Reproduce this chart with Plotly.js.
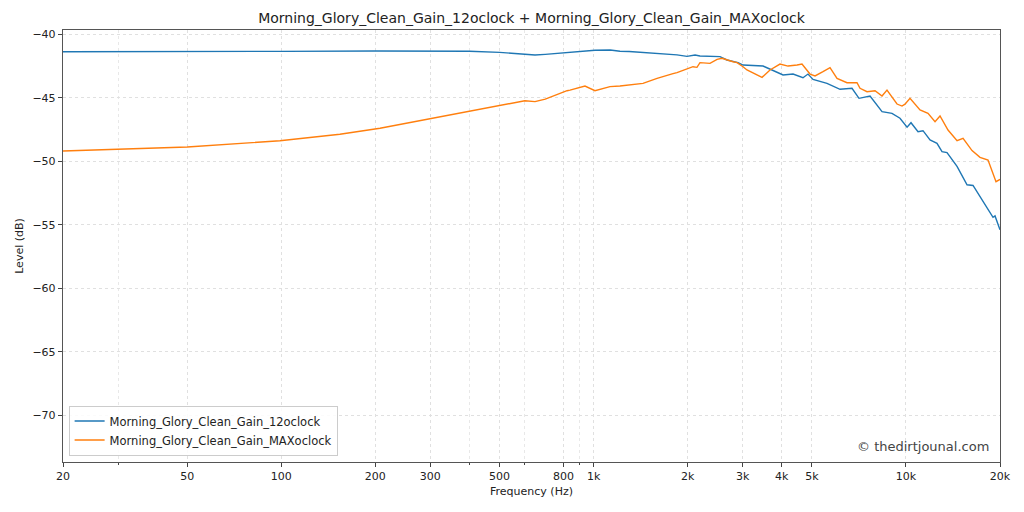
<!DOCTYPE html>
<html>
<head>
<meta charset="utf-8">
<script src="https://cdn.plot.ly/plotly-3.0.1.min.js"></script>
<style>html,body{margin:0;padding:0;background:#fff;}#chart{width:1024px;height:512px;}</style>
</head>
<body>
<div id="chart"></div>
<script>
const chartTitle = "Morning_Glory_Clean_Gain_12oclock + Morning_Glory_Clean_Gain_MAXoclock";
const seriesNames = ["Morning_Glory_Clean_Gain_12oclock", "Morning_Glory_Clean_Gain_MAXoclock"];

const freq12 = [20,30,50,100,200,300,400,500,560,602,649,700,760,822,880,938,972,1010,1130,1214,1300,1482,1549,1700,1849,1990,2112,2190,2400,2538,2672,2900,3008,3300,3486,3724,4040,4349,4680,4856,5040,5586,6150,6716,7074,7672,8382,9020,9568,10080,10378,10928,11338,11940,12570,13044,13532,14571,15686,16394,17908,18996,19279,20000];
const level12 = [-41.37,-41.37,-41.36,-41.34,-41.31,-41.31,-41.33,-41.42,-41.52,-41.58,-41.63,-41.58,-41.50,-41.42,-41.38,-41.32,-41.28,-41.26,-41.24,-41.33,-41.35,-41.45,-41.52,-41.58,-41.62,-41.74,-41.63,-41.71,-41.72,-41.76,-42.02,-42.23,-42.42,-42.45,-42.5,-42.81,-43.2,-43.13,-43.42,-43.13,-43.55,-43.86,-44.33,-44.25,-45.04,-44.86,-46.09,-46.22,-46.61,-47.32,-46.96,-47.67,-47.59,-48.32,-48.58,-49.24,-49.32,-50.4,-51.85,-51.9,-53.44,-54.41,-54.3,-55.4];

const freqMax = [20,28,50,99,154,207,300,400,501,602,649,700,822,840,938,994,1010,1128,1214,1439,1549,1596,1795,1849,2080,2142,2190,2358,2484,2576,2794,2878,3008,3097,3460,3670,3950,4192,4480,4646,4929,5115,5424,5712,6015,6474,6970,7126,7504,7960,8382,8694,9361,9712,9928,10301,11090,11764,12388,12853,13632,14571,15231,16274,17260,18309,19420,20000];
const levelMax = [-49.19,-49.09,-48.87,-48.38,-47.87,-47.4,-46.65,-46.05,-45.65,-45.23,-45.3,-45.1,-44.44,-44.39,-44.07,-44.39,-44.44,-44.12,-44.07,-43.86,-43.55,-43.47,-43.1,-43.02,-42.55,-42.6,-42.23,-42.29,-41.97,-41.89,-42.16,-42.23,-42.55,-42.81,-43.39,-42.81,-42.34,-42.5,-42.42,-42.34,-43.13,-43.28,-42.94,-42.62,-43.47,-43.81,-43.81,-44.25,-44.52,-44.44,-44.86,-44.39,-45.49,-45.65,-45.5,-45.04,-45.96,-46.22,-46.88,-46.43,-47.54,-48.38,-48.19,-49.16,-49.69,-49.9,-51.6,-51.42];

const xTickVals = [20,50,100,200,300,500,800,1000,2000,3000,4000,5000,10000,20000];
const xTickText = ["20","50","100","200","300","500","800","1k","2k","3k","4k","5k","10k","20k"];
const xMinorVals = [30,400,600,900];
const yTickVals = [-70,-65,-60,-55,-50,-45,-40];
const watermark = "© thedirtjounal.com";

const font = "DejaVu Sans, sans-serif";
const traces = [
  {x: freq12, y: level12, name: seriesNames[0], type: "scatter", mode: "lines",
   line: {color: "#1f77b4", width: 1.4}},
  {x: freqMax, y: levelMax, name: seriesNames[1], type: "scatter", mode: "lines",
   line: {color: "#ff7f0e", width: 1.4}}
];
const layout = {
  width: 1024, height: 512,
  margin: {l: 63, r: 24, t: 30, b: 50},
  paper_bgcolor: "#fff", plot_bgcolor: "#fff",
  font: {family: font, size: 11, color: "#222"},
  title: {text: chartTitle, x: 0.519, xanchor: "center", y: 0.965, yanchor: "middle",
          font: {family: font, size: 14, color: "#222"}},
  xaxis: {
    type: "log", range: [Math.log10(20), Math.log10(20000)],
    tickmode: "array", tickvals: xTickVals, ticktext: xTickText,
    ticks: "outside", ticklen: 4, tickcolor: "#444",
    showline: true, mirror: true, linecolor: "#555", linewidth: 1.2,
    showgrid: true, gridcolor: "#e0e0e0", griddash: "dot", gridwidth: 1,
    zeroline: false,
    minor: {tickmode: "array", tickvals: xMinorVals, ticks: "outside", ticklen: 2,
            tickcolor: "#444", showgrid: true, gridcolor: "#e8e8e8", griddash: "dot"},
    title: {text: "Frequency (Hz)", font: {family: font, size: 11, color: "#222"}, standoff: 4},
    tickfont: {family: font, size: 11, color: "#222"}
  },
  yaxis: {
    range: [-73.68, -39.66],
    tickmode: "array", tickvals: yTickVals,
    ticks: "outside", ticklen: 4, tickcolor: "#444",
    showline: true, mirror: true, linecolor: "#555", linewidth: 1.2,
    showgrid: true, gridcolor: "#e0e0e0", griddash: "dot", gridwidth: 1,
    zeroline: false,
    title: {text: "Level (dB)", font: {family: font, size: 11, color: "#222"}, standoff: 6},
    tickfont: {family: font, size: 11, color: "#222"}
  },
  showlegend: true,
  legend: {x: 0.006, y: 0.015, xanchor: "left", yanchor: "bottom",
           bgcolor: "rgba(255,255,255,0.85)", bordercolor: "#cccccc", borderwidth: 1,
           font: {family: font, size: 11.5, color: "#222"}, tracegroupgap: 0,
           itemwidth: 30},
  annotations: [
    {text: watermark, xref: "paper", yref: "paper", x: 0.99, y: 0.015,
     xanchor: "right", yanchor: "bottom", showarrow: false,
     font: {family: font, size: 13, color: "#444"}}
  ]
};
Plotly.newPlot("chart", traces, layout, {displayModeBar: false, staticPlot: true});
</script>
</body>
</html>
